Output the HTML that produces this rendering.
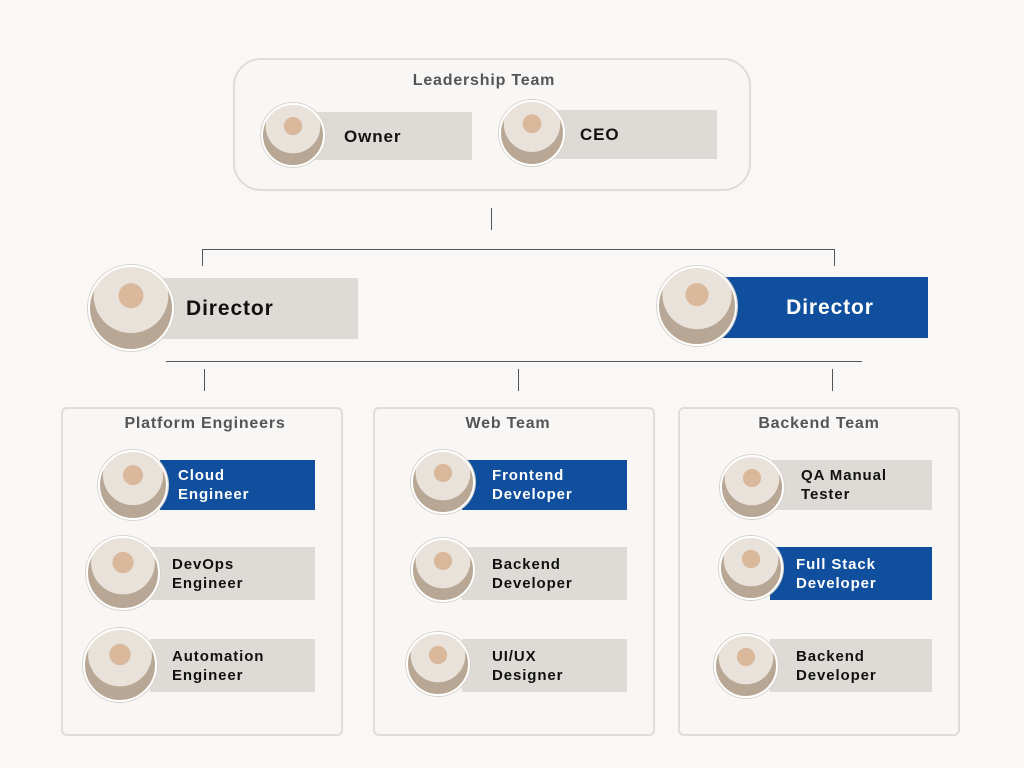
<!DOCTYPE html>
<html><head><meta charset="utf-8"><style>
body{margin:0;width:1024px;height:768px;background:#f9f8f6;position:relative;overflow:hidden;font-family:"Liberation Sans",sans-serif;font-weight:bold}
div{position:absolute;box-sizing:border-box}
.panel{border:2px solid #e0ddd9;border-radius:6px;background:#f8f7f5}
.title{color:#555;font-size:16px;letter-spacing:.8px;text-align:center}
.card{background:#dedbd7;color:#111;font-size:15px;letter-spacing:.9px;line-height:19px;display:flex;align-items:center}
.blue{background:#0f4f9e;color:#fff}
.av{border-radius:50%;border:2px solid #fff;box-shadow:0 0 0 1px #d8d2cb;background:radial-gradient(circle at 50% 35%,#d9b89c 0 18%,#e8e2da 19% 55%,#b8a794 56%)}
.l{background:#555}
</style></head><body>
<div class="panel" style="left:233px;top:58px;width:518px;height:133px;border-radius:28px"></div>
<div class="title" style="left:233px;top:72px;width:502px">Leadership Team</div>
<div class="card" style="left:310px;top:112px;width:162px;height:48px;padding-left:34px;font-size:17px">Owner</div>
<div class="av" style="left:261px;top:103px;width:64px;height:64px"></div>
<div class="card" style="left:548px;top:110px;width:169px;height:49px;padding-left:32px;font-size:17px">CEO</div>
<div class="av" style="left:499px;top:100px;width:66px;height:66px"></div>

<div class="l" style="left:491px;top:208px;width:1px;height:22px"></div>
<div class="l" style="left:202px;top:249px;width:633px;height:1px"></div>
<div class="l" style="left:202px;top:249px;width:1px;height:17px"></div>
<div class="l" style="left:834px;top:249px;width:1px;height:17px"></div>

<div class="card" style="left:160px;top:278px;width:198px;height:61px;padding-left:26px;font-size:21px">Director</div>
<div class="av" style="left:88px;top:265px;width:86px;height:86px"></div>
<div class="card blue" style="left:722px;top:277px;width:206px;height:61px;justify-content:center;padding-left:10px;font-size:21px">Director</div>
<div class="av" style="left:657px;top:266px;width:80px;height:80px"></div>

<div class="l" style="left:166px;top:361px;width:696px;height:1px"></div>
<div class="l" style="left:204px;top:369px;width:1px;height:22px"></div>
<div class="l" style="left:518px;top:369px;width:1px;height:22px"></div>
<div class="l" style="left:832px;top:369px;width:1px;height:22px"></div>

<div class="panel" style="left:61px;top:407px;width:282px;height:329px"></div>
<div class="panel" style="left:373px;top:407px;width:282px;height:329px"></div>
<div class="panel" style="left:678px;top:407px;width:282px;height:329px"></div>
<div class="title" style="left:61px;top:415px;width:288px">Platform Engineers</div>
<div class="title" style="left:373px;top:415px;width:270px">Web Team</div>
<div class="title" style="left:678px;top:415px;width:282px">Backend Team</div>

<div class="card blue" style="left:160px;top:460px;width:155px;height:50px;padding-left:18px">Cloud<br>Engineer</div>
<div class="av" style="left:98px;top:450px;width:70px;height:70px"></div>
<div class="card" style="left:150px;top:547px;width:165px;height:53px;padding-left:22px">DevOps<br>Engineer</div>
<div class="av" style="left:86px;top:536px;width:74px;height:74px"></div>
<div class="card" style="left:150px;top:639px;width:165px;height:53px;padding-left:22px">Automation<br>Engineer</div>
<div class="av" style="left:83px;top:628px;width:74px;height:74px"></div>

<div class="card blue" style="left:462px;top:460px;width:165px;height:50px;padding-left:30px">Frontend<br>Developer</div>
<div class="av" style="left:411px;top:450px;width:64px;height:64px"></div>
<div class="card" style="left:462px;top:547px;width:165px;height:53px;padding-left:30px">Backend<br>Developer</div>
<div class="av" style="left:411px;top:538px;width:64px;height:64px"></div>
<div class="card" style="left:462px;top:639px;width:165px;height:53px;padding-left:30px">UI/UX<br>Designer</div>
<div class="av" style="left:406px;top:632px;width:64px;height:64px"></div>

<div class="card" style="left:772px;top:460px;width:160px;height:50px;padding-left:29px">QA Manual<br>Tester</div>
<div class="av" style="left:720px;top:455px;width:64px;height:64px"></div>
<div class="card blue" style="left:770px;top:547px;width:162px;height:53px;padding-left:26px">Full Stack<br>Developer</div>
<div class="av" style="left:719px;top:536px;width:64px;height:64px"></div>
<div class="card" style="left:770px;top:639px;width:162px;height:53px;padding-left:26px">Backend<br>Developer</div>
<div class="av" style="left:714px;top:634px;width:64px;height:64px"></div>
</body></html>
